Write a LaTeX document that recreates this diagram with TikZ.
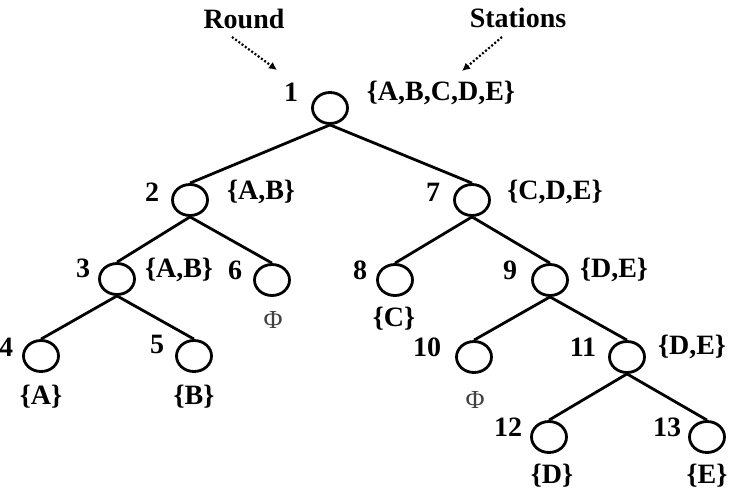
\documentclass[tikz,border=0pt]{standalone}
\usepackage{fontspec}
\setmainfont{Liberation Serif}
\usetikzlibrary{arrows.meta,shapes.geometric}
\begin{document}
\begin{tikzpicture}[x=1pt,y=-1pt,
  rnd/.style={draw, ellipse, line width=2.8pt, minimum width=35pt, minimum height=31pt, inner sep=0pt},
  edge/.style={line width=2.8pt},
  lbl/.style={font=\fontsize{28}{30}\selectfont\bfseries, inner sep=0pt},
  phi/.style={font=\fontsize{26}{28}\selectfont, inner sep=0pt, text=black!75},
  dotarrow/.style={line width=2.2pt, dash pattern=on 2pt off 2pt, -{Latex[length=8pt,width=8pt]}}
]
\useasboundingbox (0,0) rectangle (733,497);
% tree nodes
\node[rnd] (n1) at (330,108) {};
\node[rnd] (n2) at (190,200) {};
\node[rnd] (n7) at (472,200) {};
\node[rnd] (n3) at (117,279) {};
\node[rnd] (n6) at (272,280) {};
\node[rnd] (n8) at (395,280) {};
\node[rnd] (n9) at (550,280) {};
\node[rnd] (n4) at (41,356) {};
\node[rnd] (n5) at (194,356) {};
\node[rnd] (n10) at (474,357) {};
\node[rnd] (n11) at (627,357) {};
\node[rnd] (n12) at (549,437) {};
\node[rnd] (n13) at (707,437) {};
% edges
\draw[edge] (n1.south) -- (n2.north);
\draw[edge] (n1.south) -- (n7.north);
\draw[edge] (n2.south) -- (n3.north);
\draw[edge] (n2.south) -- (n6.north);
\draw[edge] (n3.south) -- (n4.north);
\draw[edge] (n3.south) -- (n5.north);
\draw[edge] (n7.south) -- (n8.north);
\draw[edge] (n7.south) -- (n9.north);
\draw[edge] (n9.south) -- (n10.north);
\draw[edge] (n9.south) -- (n11.north);
\draw[edge] (n11.south) -- (n12.north);
\draw[edge] (n11.south) -- (n13.north);
% round numbers
\node[lbl] (r1) at (291,92) {1};
\node[lbl] (r2) at (152,192) {2};
\node[lbl] (r3) at (83,268) {3};
\node[lbl] (r4) at (6,347) {4};
\node[lbl] (r5) at (157,344) {5};
\node[lbl] (r6) at (235,270) {6};
\node[lbl] (r7) at (433,192) {7};
\node[lbl] (r8) at (360,270) {8};
\node[lbl] (r9) at (510,270) {9};
\node[lbl] (r10) at (427,347) {10};
\node[lbl] (r11) at (583,347) {11};
\node[lbl] (r12) at (508,427) {12};
\node[lbl] (r13) at (667,427) {13};
% station sets
\node[lbl] (s1) at (441,93) {\{A,B,C,D,E\}};
\node[lbl] (s2) at (261,192) {\{A,B\}};
\node[lbl] (s7) at (555,192) {\{C,D,E\}};
\node[lbl] (s3) at (179,270) {\{A,B\}};
\node[phi] (s6) at (273,320) {Φ};
\node[lbl] (s8) at (394,319) {\{C\}};
\node[lbl] (s9) at (614,270) {\{D,E\}};
\node[lbl] (s4) at (41,397) {\{A\}};
\node[lbl] (s5) at (194,397) {\{B\}};
\node[phi] (s10) at (475,400) {Φ};
\node[lbl] (s11) at (692,347) {\{D,E\}};
\node[lbl] (s12) at (552,476) {\{D\}};
\node[lbl] (s13) at (707,476) {\{E\}};
% headings and pointers
\node[lbl] (round) at (244,19) {Round};
\node[lbl] (stations) at (518,18) {Stations};
\coordinate (ra) at (232,37);
\coordinate (rb) at (277,70);
\coordinate (sa) at (502,37);
\coordinate (sb) at (462,71);
\draw[dotarrow] (ra) -- (rb);
\draw[dotarrow] (sa) -- (sb);
\end{tikzpicture}
\end{document}
